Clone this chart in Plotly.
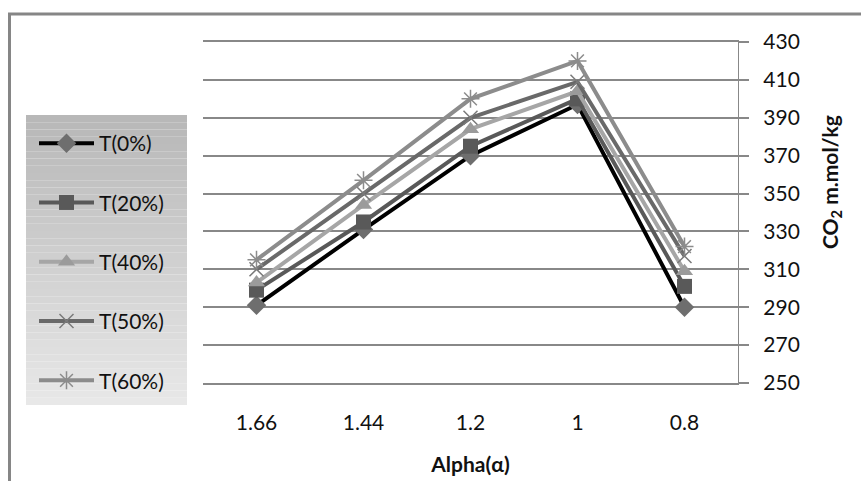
import plotly.graph_objects as go

categories = ["1.66", "1.44", "1.2", "1", "0.8"]
series_names = ["T(0%)", "T(20%)", "T(40%)", "T(50%)", "T(60%)"]
t0 = [291, 331, 370, 397, 290]
t20 = [299, 335, 375, 400, 301]
t40 = [303, 344, 384, 404, 309]
t50 = [310, 350, 390, 409, 317]
t60 = [315, 357, 400, 420, 322]
y_ticks = [250, 270, 290, 310, 330, 350, 370, 390, 410, 430]

series_values = [t0, t20, t40, t50, t60]
line_colors = ["#000000", "#595959", "#a6a6a6", "#696969", "#8c8c8c"]
marker_colors = ["#6e6e6e", "#595959", "#9b9b9b", "#7a7a7a", "#8c8c8c"]
symbols = ["diamond", "square", "triangle-up", "x-thin-open", "asterisk-open"]
sizes = [15, 15, 15, 14, 15]

FONT = "Lato"
GRID = "#888888"
FS = 21

fig = go.Figure()
for i, (name, vals) in enumerate(zip(series_names, series_values)):
    mk = dict(symbol=symbols[i], size=sizes[i], color=marker_colors[i])
    if "open" in symbols[i]:
        mk["line"] = dict(color=marker_colors[i], width=1.5)
    else:
        mk["line"] = dict(width=0)
    fig.add_trace(go.Scatter(
        x=categories, y=vals, name=name, mode="lines+markers",
        line=dict(color=line_colors[i], width=4),
        marker=mk, legendgroup=name,
    ))

# plot-area geometry in pixels (used only for styling shapes)
L, R, T, B = 203, 738, 42, 383
W, H = R - L, B - T
def px(x):
    return (x - L) / W
def py(y):
    return (B - y) / H

shapes = []
# legend gradient background
lx0, lx1, ly0, ly1 = 26, 187, 115, 405
n = 40
for k in range(n):
    c = int(184 + (232 - 184) * k / (n - 1))
    ya = ly0 + (ly1 - ly0) * k / n
    yb = ly0 + (ly1 - ly0) * (k + 1) / n
    shapes.append(dict(type="rect", xref="paper", yref="paper",
                       x0=px(lx0), x1=px(lx1), y0=py(yb), y1=py(ya),
                       fillcolor=f"rgb({c},{c},{c})", line=dict(width=0),
                       layer="below"))
# outer frame (top and left edges)
shapes.append(dict(type="line", xref="paper", yref="paper",
                   x0=px(8), x1=px(870), y0=py(14), y1=py(14),
                   line=dict(color="#868686", width=3)))
shapes.append(dict(type="line", xref="paper", yref="paper",
                   x0=px(9.5), x1=px(9.5), y0=py(14), y1=py(490),
                   line=dict(color="#868686", width=3)))

fig.update_layout(
    width=861, height=481,
    margin=dict(l=L, r=861 - R, t=T, b=481 - B),
    paper_bgcolor="white", plot_bgcolor="white",
    font=dict(family=FONT, size=FS, color="#111111"),
    shapes=shapes,
    showlegend=True,
    legend=dict(x=px(34), xanchor="left", y=py(123), yanchor="top",
                bgcolor="rgba(0,0,0,0)", tracegroupgap=29,
                font=dict(family=FONT, size=FS, color="#111111"),
                itemwidth=55),
    xaxis=dict(type="category", range=[-0.5, 4.5], showgrid=False,
               showline=True, mirror=True, linecolor=GRID, linewidth=1.5,
               zeroline=False, ticks="", automargin=False,
               ticklabelstandoff=20,
               tickfont=dict(family=FONT, size=FS),
               title=dict(text="<b>Alpha(α)</b>", standoff=24,
                          font=dict(family=FONT, size=FS))),
    yaxis=dict(side="right", range=[250, 430], tickvals=y_ticks,
               showgrid=True, gridcolor=GRID, gridwidth=1.5,
               showline=True, linecolor=GRID, linewidth=1.2,
               zeroline=False, ticks="outside", ticklen=10, automargin=False,
               tickcolor=GRID, tickwidth=1.5, ticklabelstandoff=10,
               tickfont=dict(family=FONT, size=FS)),
    annotations=[dict(text="<b>CO<sub>2</sub> m.mol/kg</b>", xref="paper",
                      yref="paper", x=px(831), y=py(182), showarrow=False,
                      textangle=-90, font=dict(family=FONT, size=FS),
                      xanchor="center", yanchor="middle")],
)

fig.write_html("out.html")
